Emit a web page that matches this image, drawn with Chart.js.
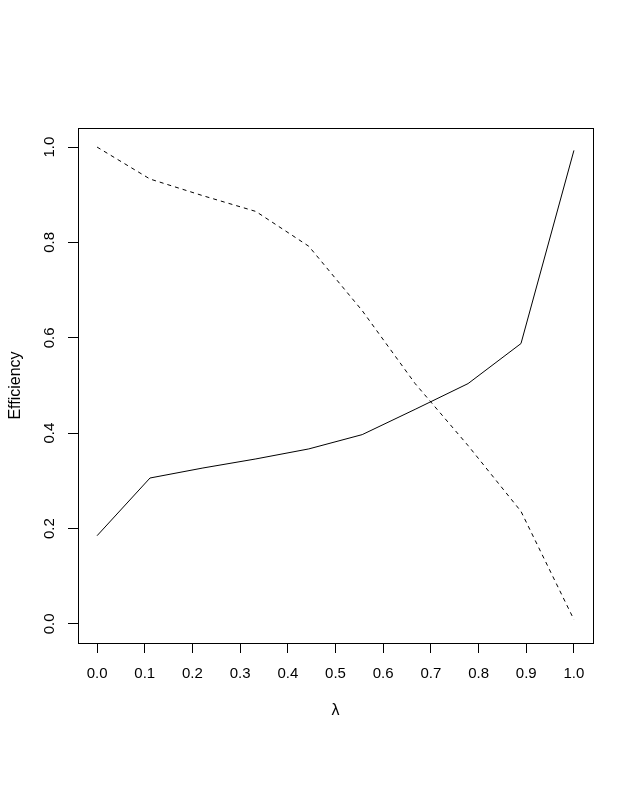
<!DOCTYPE html>
<html>
<head>
<meta charset="utf-8">
<script src="https://cdn.jsdelivr.net/npm/chart.js@4/dist/chart.umd.min.js"></script>
<style>
  html, body { margin: 0; padding: 0; background: #fff; }
  canvas { display: block; }
</style>
</head>
<body>
<canvas id="chart" width="634" height="791"></canvas>
<script>
// lambda values (x) and the two efficiency curves
const lambdas = [0, 0.111, 0.222, 0.333, 0.444, 0.556, 0.667, 0.778, 0.889, 1.0];
const solidEff = [0.185, 0.306, 0.327, 0.346, 0.367, 0.397, 0.450, 0.504, 0.588, 0.993];
const dashedEff = [1.000, 0.933, 0.898, 0.865, 0.792, 0.657, 0.504, 0.374, 0.236, 0.009];

const xTicks = [0, 0.1, 0.2, 0.3, 0.4, 0.5, 0.6, 0.7, 0.8, 0.9, 1.0];
const yTicks = [0, 0.2, 0.4, 0.6, 0.8, 1.0];

const FONT = "'Liberation Sans', Arial, sans-serif";

function toPoints(ys) {
  return lambdas.map((x, i) => ({ x: x, y: ys[i] }));
}

// R style box round the plot region
const boxPlugin = {
  id: "box",
  afterDraw(chart) {
    const { ctx, chartArea: a } = chart;
    ctx.save();
    ctx.strokeStyle = "#000";
    ctx.lineWidth = 1;
    ctx.strokeRect(a.left + 0.5, a.top + 0.5, a.right - a.left, a.bottom - a.top);
    ctx.restore();
  }
};

const ctx = document.getElementById("chart").getContext("2d");
new Chart(ctx, {
  type: "line",
  data: {
    datasets: [
      {
        data: toPoints(solidEff),
        borderColor: "#000",
        borderWidth: 1,
        pointRadius: 0,
        tension: 0,
      },
      {
        data: toPoints(dashedEff),
        borderColor: "#000",
        borderWidth: 1,
        borderDash: [4, 4],
        pointRadius: 0,
        tension: 0,
      }
    ]
  },
  options: {
    responsive: false,
    animation: false,
    events: [],
    layout: { padding: { top: 128, right: 41, bottom: 0, left: 0 } },
    plugins: {
      legend: { display: false },
      tooltip: { enabled: false }
    },
    scales: {
      x: {
        type: "linear",
        min: -0.04,
        max: 1.04,
        afterBuildTicks: s => { s.ticks = xTicks.map(v => ({ value: v })); },
        afterFit: s => { s.height = 148; },
        border: { display: false },
        grid: { drawOnChartArea: false, color: "#000", tickLength: 10, tickWidth: 1 },
        ticks: {
          color: "#000",
          font: { family: FONT, size: 15 },
          padding: 12,
          maxRotation: 0,
          callback: v => v.toFixed(1)
        },
        title: {
          display: true,
          text: "λ",
          color: "#000",
          font: { family: FONT, size: 16 },
          padding: { top: 0, bottom: 71 }
        }
      },
      y: {
        type: "linear",
        min: -0.04,
        max: 1.04,
        afterBuildTicks: s => { s.ticks = yTicks.map(v => ({ value: v })); },
        afterFit: s => { s.width = 78; },
        border: { display: false },
        grid: { drawOnChartArea: false, color: "#000", tickLength: 10, tickWidth: 1 },
        ticks: {
          color: "#000",
          font: { family: FONT, size: 15 },
          padding: 8,
          minRotation: 90,
          maxRotation: 90,
          crossAlign: "center",
          callback: v => v.toFixed(1)
        },
        title: {
          display: true,
          text: "Efficiency",
          color: "#000",
          font: { family: FONT, size: 16 },
          padding: { top: 6, bottom: 0 }
        }
      }
    }
  },
  plugins: [boxPlugin]
});
</script>
</body>
</html>
